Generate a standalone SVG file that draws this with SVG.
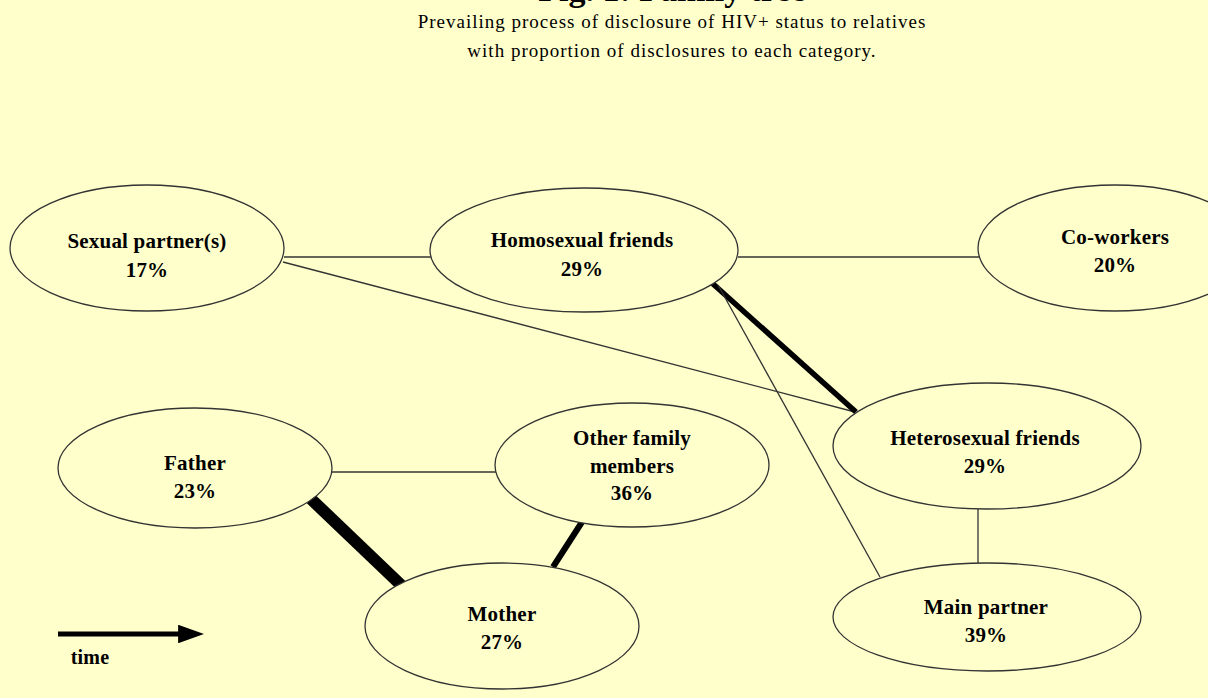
<svg xmlns="http://www.w3.org/2000/svg" width="1208" height="698" viewBox="0 0 1208 698">
<defs>
<style>
.bg{fill:#FFFFCC}
.node ellipse{fill:#FFFFCC;stroke:#333;stroke-width:1.3}
.lbl{font-family:"Liberation Serif","Times New Roman",serif;font-weight:bold;font-size:21px;letter-spacing:0.2px;fill:#000;text-anchor:middle}
.sub{font-family:"Liberation Serif","Times New Roman",serif;font-size:19px;fill:#000;text-anchor:middle;letter-spacing:1px}
.thin{stroke:#333;stroke-width:1.3;fill:none}
.thick{stroke:#000;fill:none}
</style>
<marker id="ah" viewBox="0 0 14 10" refX="1" refY="5" markerWidth="5.2" markerHeight="3.7" orient="auto" markerUnits="strokeWidth">
<path d="M0,0 L14,5 L0,10 z" fill="#000"/>
</marker>
</defs>
<rect class="bg" x="0" y="0" width="1208" height="698"/>
<text x="672" y="1" style="font-family:'Liberation Serif','Times New Roman',serif;font-weight:bold;font-size:34px;text-anchor:middle">Fig. 1: Family tree</text>
<text class="sub" x="672" y="28">Prevailing process of disclosure of HIV+ status to relatives</text>
<text class="sub" x="672" y="57">with proportion of disclosures to each category.</text>
<g id="connectors">
<line class="thin" x1="284" y1="257" x2="431" y2="257"/>
<line class="thin" x1="283" y1="262" x2="855" y2="412"/>
<line class="thin" x1="738" y1="257" x2="979" y2="257"/>
<line class="thick" x1="712" y1="283" x2="856" y2="412" style="stroke-width:5.5"/>
<line class="thin" x1="718" y1="285" x2="880" y2="577"/>
<line class="thin" x1="978" y1="509" x2="978" y2="564"/>
<line class="thin" x1="332" y1="472" x2="496" y2="472"/>
<line class="thick" x1="311" y1="499" x2="401" y2="585" style="stroke-width:12"/>
<line class="thick" x1="582" y1="522" x2="553" y2="567" style="stroke-width:6"/>
</g>
<g id="n-sexual" class="node"><ellipse cx="147" cy="248" rx="137" ry="63"/><text class="lbl" x="147" y="248">Sexual partner(s)</text><text class="lbl" x="147" y="277">17%</text></g>
<g id="n-homo" class="node"><ellipse cx="584" cy="250" rx="154" ry="62"/><text class="lbl" x="582" y="247">Homosexual friends</text><text class="lbl" x="582" y="276">29%</text></g>
<g id="n-cowork" class="node"><ellipse cx="1115" cy="248" rx="137" ry="63"/><text class="lbl" x="1115" y="244">Co-workers</text><text class="lbl" x="1115" y="272">20%</text></g>
<g id="n-hetero" class="node"><ellipse cx="987" cy="446" rx="154" ry="63"/><text class="lbl" x="985" y="445">Heterosexual friends</text><text class="lbl" x="985" y="473">29%</text></g>
<g id="n-main" class="node"><ellipse cx="987" cy="617" rx="154" ry="54"/><text class="lbl" x="986" y="614">Main partner</text><text class="lbl" x="986" y="642">39%</text></g>
<g id="n-father" class="node"><ellipse cx="195" cy="468" rx="137" ry="60"/><text class="lbl" x="195" y="470">Father</text><text class="lbl" x="195" y="498">23%</text></g>
<g id="n-other" class="node"><ellipse cx="632" cy="465" rx="137" ry="62"/><text class="lbl" x="632" y="445">Other family</text><text class="lbl" x="632" y="473">members</text><text class="lbl" x="632" y="500">36%</text></g>
<g id="n-mother" class="node"><ellipse cx="502" cy="626" rx="137" ry="63"/><text class="lbl" x="502" y="621">Mother</text><text class="lbl" x="502" y="649">27%</text></g>
<g id="legend">
<line x1="58" y1="634" x2="180" y2="634" stroke="#000" stroke-width="5" marker-end="url(#ah)"/>
<text class="lbl" x="90" y="664" style="font-size:20px">time</text>
</g>
</svg>
